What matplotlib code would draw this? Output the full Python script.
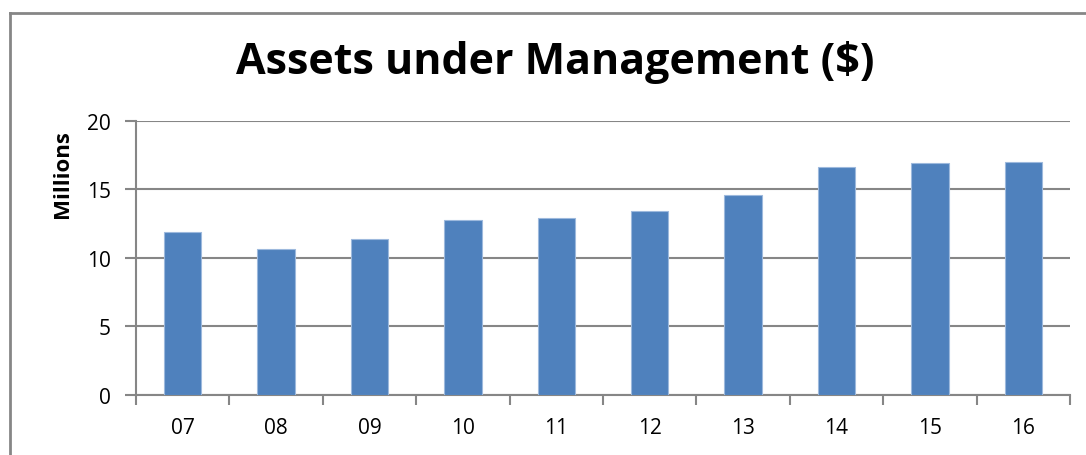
import numpy as np
import matplotlib.pyplot as plt
from matplotlib.lines import Line2D

# data
years = ['07', '08', '09', '10', '11', '12', '13', '14', '15', '16']
assets = [11.92, 10.62, 11.39, 12.77, 12.9, 13.43, 14.62, 16.63, 16.9, 17.04]

plt.rcParams['font.family'] = ['Open Sans', 'DejaVu Sans']

fig = plt.figure(figsize=(10.86, 4.56), dpi=100)
ax = fig.add_axes([0.1252, 0.1316, 0.8601, 0.6009])

x = np.arange(len(years))
ax.bar(x, assets, width=0.4, color='#4F81BD', edgecolor='#9DB9DD', linewidth=0.8, zorder=3)

ax.set_xlim(-0.5, len(years) - 0.5)
ax.set_ylim(0, 20)
ax.set_yticks([0, 5, 10, 15, 20])
ax.set_xticks(x)
ax.set_xticklabels(years)
ax.set_xticks(np.arange(len(years) + 1) - 0.5, minor=True)
ax.tick_params(axis='x', which='major', length=0, pad=16, labelsize=15)
ax.tick_params(axis='x', which='minor', length=7, width=1.5, color='#868686', direction='out')
ax.tick_params(axis='y', length=8, width=1.5, color='#868686', labelsize=15, pad=10)

ax.grid(axis='y', color='#868686', linewidth=1.5, zorder=0)
for s in ['top', 'right']:
    ax.spines[s].set_visible(False)
for s in ['left', 'bottom']:
    ax.spines[s].set_color('#868686')
    ax.spines[s].set_linewidth(1.5)

# display units label, placed near the top like Excel does
fig.text(62 / 1086, 1 - 174 / 456, 'Millions', rotation=90, ha='center', va='center',
         fontsize=16, fontweight='bold')

fig.text(0.511, 0.864, 'Assets under Management ($)', ha='center', va='center',
         fontsize=31, fontweight='bold')

# outer chart frame
fig.add_artist(Line2D([10 / 1086, 10 / 1086], [0, 1 - 14 / 456], color='#868686', linewidth=2))
fig.add_artist(Line2D([10 / 1086, 1], [1 - 14 / 456, 1 - 14 / 456], color='#868686', linewidth=2))

plt.savefig('out.png', dpi=100)
plt.close()
